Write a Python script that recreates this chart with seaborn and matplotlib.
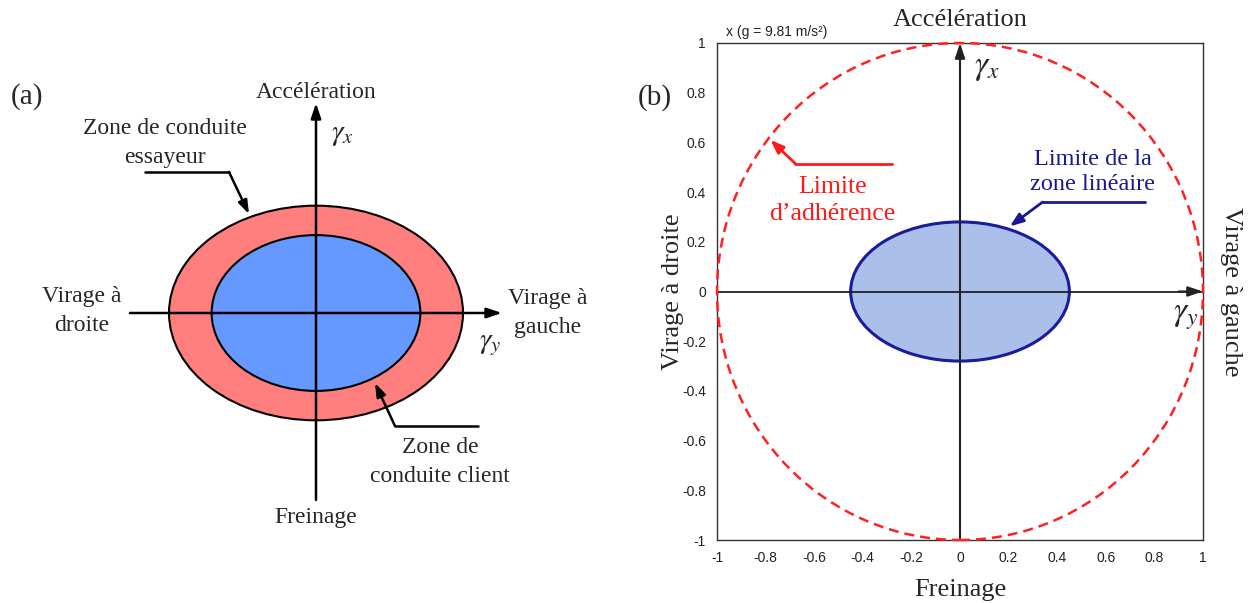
import numpy as np
import seaborn as sns
import matplotlib.pyplot as plt
from matplotlib.patches import Ellipse

# panel (b) values, in g
tick_values = [-1, -0.8, -0.6, -0.4, -0.2, 0, 0.2, 0.4, 0.6, 0.8, 1]
tick_labels = ['-1', '-0.8', '-0.6', '-0.4', '-0.2', '0', '0.2', '0.4', '0.6', '0.8', '1']
adherence_radius = 1.0
linear_zone_x = 0.45   # semi-axis along gamma_y
linear_zone_y = 0.28   # semi-axis along gamma_x

# panel (a) schematic, arbitrary units (outer zone half-width = 1)
essayeur_zone = [1.0, 0.73]
client_zone = [0.71, 0.53]

sns.set_style("white")
plt.rcParams['font.family'] = ['Liberation Serif', 'DejaVu Serif']
plt.rcParams['mathtext.fontset'] = 'stix'

fig = plt.figure(figsize=(12.48, 6.03), dpi=100)

# ---------------- panel (a) ----------------
s = 147.0  # pixels per unit
axa = fig.add_axes([0, 0, 0.5, 1])
axa.set_xlim(-316 / s, (624 - 316) / s)
axa.set_ylim((313 - 603) / s, 313 / s)
axa.axis('off')

def pa(px, py):
    return (px - 316) / s, (313 - py) / s

axa.add_patch(Ellipse((0, 0), 2 * essayeur_zone[0], 2 * essayeur_zone[1],
                      facecolor='#FF7F7F', edgecolor='black', lw=1.5, zorder=1))
axa.add_patch(Ellipse((0, 0), 2 * client_zone[0], 2 * client_zone[1],
                      facecolor='#6699FF', edgecolor='black', lw=1.5, zorder=2))

arr = dict(arrowstyle='-|>,head_length=0.9,head_width=0.3', color='black', lw=1.8,
           shrinkA=0, shrinkB=0)
axa.annotate('', xy=pa(316, 103), xytext=pa(316, 500), arrowprops=arr, zorder=3)
axa.annotate('', xy=pa(502, 313), xytext=pa(130, 313), arrowprops=arr, zorder=3)

fs = 17
ls = 1.45
axa.text(*pa(27, 97), '(a)', fontsize=21, ha='center', va='center')
axa.text(*pa(316, 92), 'Accélération', fontsize=fs, ha='center', va='center')
axa.text(*pa(316, 517), 'Freinage', fontsize=fs, ha='center', va='center')
axa.text(*pa(82, 311), 'Virage à\ndroite', fontsize=fs, ha='center', va='center', linespacing=ls)
axa.text(*pa(548, 313), 'Virage à\ngauche', fontsize=fs, ha='center', va='center', linespacing=ls)
axa.text(*pa(343, 135), r'$\gamma_x$', fontsize=21, ha='center', va='center')
axa.text(*pa(490, 345), r'$\gamma_y$', fontsize=21, ha='center', va='center')
axa.text(*pa(165, 143), 'Zone de conduite\nessayeur', fontsize=fs, ha='center', va='center', linespacing=ls)
axa.text(*pa(440, 462), 'Zone de\nconduite client', fontsize=fs, ha='center', va='center', linespacing=ls)

lead = dict(arrowstyle='-|>,head_length=0.8,head_width=0.28', color='black', lw=1.8,
            shrinkA=0, shrinkB=0)
axa.plot(*zip(pa(145, 172), pa(229, 172)), color='black', lw=1.8)
axa.annotate('', xy=pa(249, 214), xytext=pa(229, 172), arrowprops=lead)
axa.plot(*zip(pa(478, 426), pa(395, 426)), color='black', lw=1.8)
axa.annotate('', xy=pa(375, 383), xytext=pa(395, 426), arrowprops=lead)

# ---------------- panel (b) ----------------
axb = fig.add_axes([717 / 1248, 1 - 540 / 603, (1203 - 717) / 1248, (540 - 43) / 603])
axb.set_xlim(-1, 1)
axb.set_ylim(-1, 1)
axb.set_xticks(tick_values)
axb.set_yticks(tick_values)
axb.set_xticklabels(tick_labels, family='Liberation Sans', fontsize=10, color='#222222')
axb.set_yticklabels(tick_labels, family='Liberation Sans', fontsize=10, color='#222222')
axb.tick_params(length=0, pad=8)
for sp in axb.spines.values():
    sp.set_color('#333333')
    sp.set_linewidth(1.0)

axb.add_patch(Ellipse((0, 0), 2 * linear_zone_x, 2 * linear_zone_y,
                      facecolor='#AABFEA', edgecolor='#1C1C9A', lw=2.2, zorder=2))
axb.add_patch(Ellipse((0, 0), 2 * adherence_radius, 2 * adherence_radius, fill=False,
                      edgecolor='#FF2020', lw=1.8, ls=(0, (4, 2.4)), zorder=4, clip_on=False))

arrb = dict(arrowstyle='-|>,head_length=0.9,head_width=0.3', color='#222222', lw=1.5,
            shrinkA=0, shrinkB=0)
axb.axhline(0, color='#222222', lw=1.3, zorder=3)
axb.annotate('', xy=(0, 1), xytext=(0, -1), arrowprops=arrb, zorder=3)
axb.annotate('', xy=(1, 0), xytext=(0.9, 0), arrowprops=arrb, zorder=3)

axb.text(0.11, 0.9, r'$\gamma_x$', fontsize=24, ha='center', va='center')
axb.text(0.93, -0.1, r'$\gamma_y$', fontsize=24, ha='center', va='center')

axb.text(-0.965, 1.045, 'x (g = 9.81 m/s²)', family='Liberation Sans', fontsize=10,
         ha='left', va='center', color='#222222')
axb.text(0, 1.092, 'Accélération', fontsize=19, ha='center', va='center', clip_on=False)
axb.text(0, -1.2, 'Freinage', fontsize=19, ha='center', va='center', clip_on=False)
axb.text(-1.183, 0.0, 'Virage à droite', fontsize=19, rotation=90, ha='center', va='center')
axb.text(1.117, 0.0, 'Virage à gauche', fontsize=19, rotation=-90, ha='center', va='center')
axb.text(-1.255, 0.78, '(b)', fontsize=21, ha='center', va='center')

red = '#FF1A1A'
navy = '#1A1A8C'
axb.text(-0.526, 0.368, 'Limite\nd’adhérence', color=red, fontsize=18.5, ha='center',
         va='center', linespacing=1.3)
axb.plot([-0.279, -0.678], [0.515, 0.515], color=red, lw=2)
axb.annotate('', xy=(-0.78, 0.61), xytext=(-0.678, 0.515),
             arrowprops=dict(arrowstyle='-|>,head_length=0.8,head_width=0.3', color=red,
                             lw=2, shrinkA=0, shrinkB=0))
axb.text(0.547, 0.48, 'Limite de la\nzone linéaire', color=navy, fontsize=17.5, ha='center',
         va='center', linespacing=1.25)
axb.plot([0.76, 0.34], [0.36, 0.36], color=navy, lw=2)
axb.annotate('', xy=(0.205, 0.262), xytext=(0.34, 0.36),
             arrowprops=dict(arrowstyle='-|>,head_length=0.8,head_width=0.3', color=navy,
                             lw=2, shrinkA=0, shrinkB=0))

fig.savefig('out.png', dpi=100)
